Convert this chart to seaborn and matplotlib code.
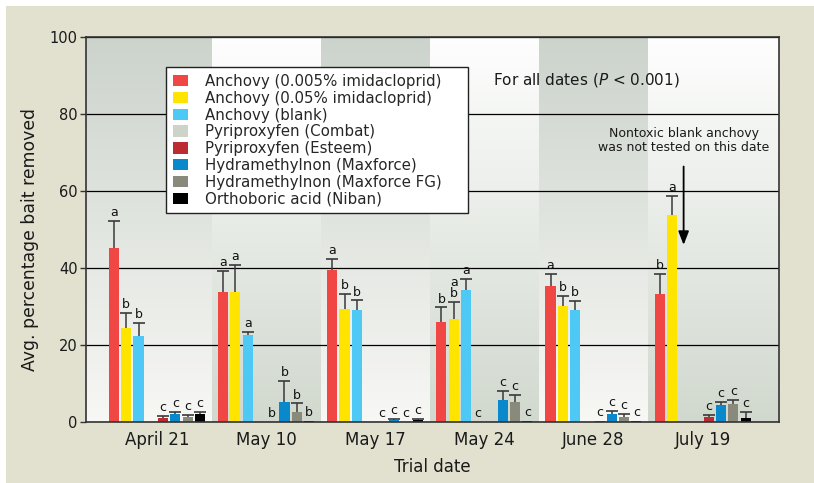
import numpy as np
import pandas as pd
import matplotlib
matplotlib.use("Agg")
import matplotlib.pyplot as plt
from matplotlib.patches import Rectangle
from matplotlib.container import BarContainer
import seaborn as sns

nan = np.nan

dates = ["April 21", "May 10", "May 17", "May 24", "June 28", "July 19"]

treatments = [
    "Anchovy (0.005% imidacloprid)",
    "Anchovy (0.05% imidacloprid)",
    "Anchovy (blank)",
    "Pyriproxyfen (Combat)",
    "Pyriproxyfen (Esteem)",
    "Hydramethylnon (Maxforce)",
    "Hydramethylnon (Maxforce FG)",
    "Orthoboric acid (Niban)",
]

colors = ["#f04744", "#ffe400", "#4ec9f5", "#cdd3c8",
          "#bc2b31", "#0a88cc", "#8a8a7c", "#000000"]

# mean % bait removed per date (nan = not tested)
anchovy_low = [45.1, 33.8, 39.5, 25.9, 35.3, 33.3]
anchovy_high = [24.5, 33.8, 29.4, 26.7, 30.2, 53.7]
anchovy_blank = [22.4, 22.6, 29.1, 34.3, 29.1, nan]
combat = [nan, nan, nan, 0.0, nan, nan]
esteem = [1.0, 0.0, 0.0, nan, 0.3, 1.3]
maxforce = [2.2, 5.3, 0.6, 5.8, 2.1, 4.6]
maxforce_fg = [1.3, 2.7, 0.1, 5.2, 1.45, 4.8]
niban = [2.1, 0.3, 0.5, 0.3, 0.3, 1.1]

# standard errors (upper bar only)
se_anchovy_low = [7.2, 5.4, 2.9, 3.9, 3.2, 5.2]
se_anchovy_high = [3.9, 7.0, 3.9, 4.5, 2.6, 5.0]
se_anchovy_blank = [3.4, 0.9, 2.5, 2.9, 2.4, nan]
se_combat = [nan, nan, nan, 0.0, nan, nan]
se_esteem = [0.7, 0.0, 0.0, nan, 0.0, 0.5]
se_maxforce = [0.5, 5.5, 0.3, 2.3, 0.75, 0.7]
se_maxforce_fg = [0.7, 2.2, 0.0, 1.8, 0.7, 1.0]
se_niban = [0.7, 0.0, 0.3, 0.0, 0.0, 1.65]

# significance letters
let_anchovy_low = ["a", "a", "a", "b", "a", "b"]
let_anchovy_high = ["b", "a", "b", "a\nb", "b", "a"]
let_anchovy_blank = ["b", "a", "b", "a", "b", ""]
let_combat = ["", "", "", "c", "", ""]
let_esteem = ["c", "b", "c", "", "c", "c"]
let_maxforce = ["c", "b", "c", "c", "c", "c"]
let_maxforce_fg = ["c", "b", "c", "c", "c", "c"]
let_niban = ["c", "b", "c", "c", "c", "c"]

values = [anchovy_low, anchovy_high, anchovy_blank, combat,
          esteem, maxforce, maxforce_fg, niban]
errors = [se_anchovy_low, se_anchovy_high, se_anchovy_blank, se_combat,
          se_esteem, se_maxforce, se_maxforce_fg, se_niban]
letters = [let_anchovy_low, let_anchovy_high, let_anchovy_blank, let_combat,
           let_esteem, let_maxforce, let_maxforce_fg, let_niban]

rows = []
for t, vals in zip(treatments, values):
    for d, v in zip(dates, vals):
        rows.append({"date": d, "treatment": t, "value": v})
df = pd.DataFrame(rows).dropna()

sns.set_style("white")
plt.rcParams["font.family"] = ["DejaVu Sans"]
plt.rcParams["mathtext.fontset"] = "dejavusans"

fig = plt.figure(figsize=(8.14, 4.83), dpi=100, facecolor="white")
fig.patches.append(Rectangle((6 / 814, 0), 1, 1 - 6 / 483, transform=fig.transFigure,
                             facecolor="#e2e1d0", edgecolor="none", zorder=-10))
ax = fig.add_axes([86 / 814, 1 - 422.3 / 483, 693 / 814, 385.6 / 483])

xmin, xmax = -0.65, 5.70

# alternating shaded bands with vertical gradient
gray_band = (np.array([0.80, 0.83, 0.80]), np.array([0.97, 0.97, 0.96]))
white_band = (np.array([0.995, 0.995, 0.995]), np.array([0.82, 0.85, 0.81]))
edges = [xmin, 0.5, 1.5, 2.5, 3.5, 4.5, xmax]
ramp = np.linspace(0, 1, 100)[:, None, None]
for i in range(6):
    top, bot = gray_band if i % 2 == 0 else white_band
    img = top + (bot - top) * ramp
    ax.imshow(img, extent=[edges[i], edges[i + 1], 0, 100], aspect="auto",
              origin="upper", zorder=0, interpolation="bilinear")

sns.barplot(data=df, x="date", y="value", hue="treatment", order=dates,
            hue_order=treatments, palette=colors, saturation=1, errorbar=None,
            width=0.9, gap=0.18, linewidth=0, ax=ax, zorder=2)

bar_containers = [c for c in ax.containers if isinstance(c, BarContainer)]

# error bars (upper only) and letters
for i, cont in enumerate(bar_containers):
    for bar in cont:
        if bar is None:
            continue
        cx = bar.get_x() + bar.get_width() / 2
        j = int(round(cx))
        v = values[i][j]
        e = errors[i][j]
        if np.isnan(v):
            continue
        top = v
        if e > 0:
            ax.errorbar(cx, v, yerr=[[0], [e]], fmt="none", ecolor="#3a3a3a",
                        elinewidth=1.1, capsize=0, zorder=3)
            ax.plot([cx], [v + e], marker="_", markersize=8, markeredgewidth=1.2,
                    color="#3a3a3a", zorder=3)
            top = v + e
        txt = letters[i][j]
        if txt:
            ax.annotate(txt, (cx, top), xytext=(0, 3.5), textcoords="offset points",
                        ha="center", va="baseline", fontsize=9, color="#111111",
                        linespacing=0.8, zorder=4)

ax.set_xlim(xmin, xmax)
ax.set_ylim(0, 100)
ax.set_yticks([0, 20, 40, 60, 80, 100])
ax.yaxis.grid(True, color="black", linewidth=0.9)
ax.set_axisbelow(True)
for s in ax.spines.values():
    s.set_color("#333333")
    s.set_linewidth(1.2)
    s.set_zorder(5)
ax.tick_params(axis="y", length=4, width=1, color="#333333", labelsize=10.5,
               labelcolor="#1a1a1a", pad=2, left=True)
ax.tick_params(axis="x", length=0, labelsize=12, labelcolor="#1a1a1a", pad=6)
ax.set_xlabel("Trial date", fontsize=12, color="#1a1a1a", labelpad=7)
ax.set_ylabel("Avg. percentage bait removed", fontsize=12.4, color="#1a1a1a")
ax.yaxis.set_label_coords(-0.068, 0.473)

sns.move_legend(ax, loc="upper left", bbox_to_anchor=(0.1154, 0.5, 0.4358, 0.421),
                mode="expand", title=None,
                fontsize=10.8, frameon=True, fancybox=False, framealpha=1,
                edgecolor="#222222", labelspacing=0.12, handlelength=1.05,
                handleheight=0.8, handletextpad=1.1, borderpad=0.45,
                borderaxespad=0)
ax.get_legend().get_frame().set_linewidth(1.0)
ax.get_legend().set_zorder(6)

ax.text(3.08, 88.8, "For all dates ($\\it{P}$ < 0.001)", fontsize=11,
        ha="left", va="center", color="#1a1a1a", zorder=6)
ax.annotate("Nontoxic blank anchovy\nwas not tested on this date",
            xy=(4.826, 46.0), xytext=(4.826, 73.2), ha="center", va="center",
            fontsize=9, color="#1a1a1a", linespacing=1.1, zorder=6,
            arrowprops=dict(arrowstyle="-|>,head_width=0.35,head_length=0.9",
                            color="black", lw=1.3, shrinkA=7, shrinkB=0))

fig.savefig("out.png", dpi=100, facecolor=fig.get_facecolor())
